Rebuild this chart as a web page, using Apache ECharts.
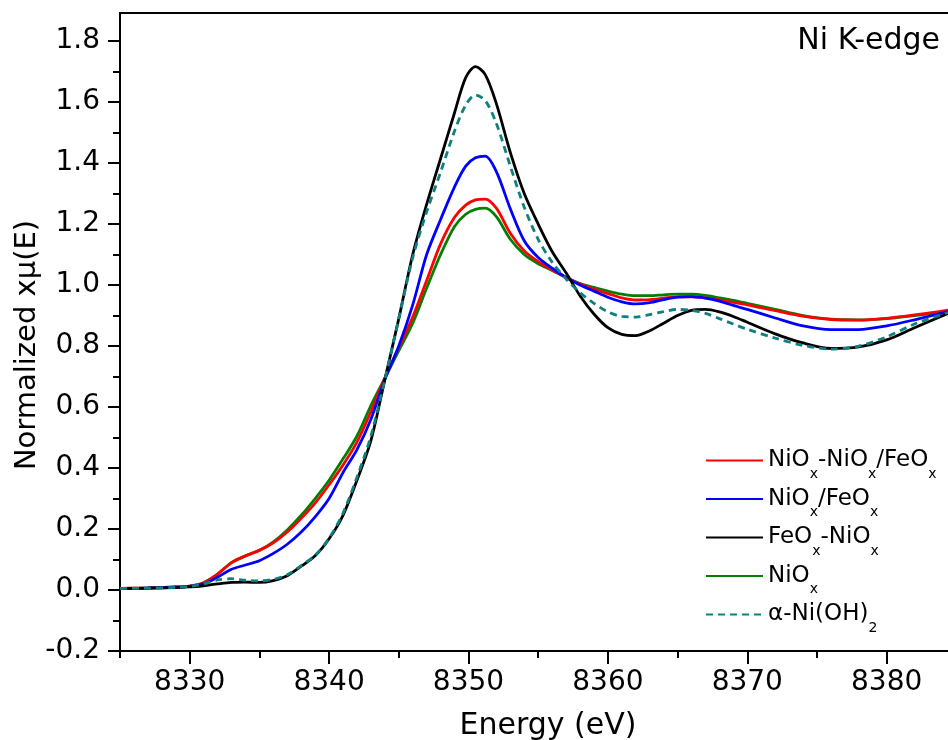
<!DOCTYPE html>
<html>
<head>
<meta charset="utf-8">
<title>Ni K-edge XANES</title>
<script src="https://cdn.jsdelivr.net/npm/echarts@6/dist/echarts.min.js"></script>
<style>
html, body { margin: 0; padding: 0; background: #fff; }
#chart { width: 948px; height: 740px; }
</style>
</head>
<body>
<div id="chart"></div>
<script>
// energies (eV)
var energy = [8325, 8327, 8329, 8330, 8331, 8332, 8333, 8334, 8335, 8336, 8337, 8338, 8339, 8340,
    8341, 8342, 8343, 8344, 8345, 8346, 8347, 8348, 8349, 8349.8, 8350.5, 8351.2, 8352, 8353, 8354,
    8355, 8356, 8357, 8358, 8359, 8360, 8361, 8362, 8363, 8364, 8365, 8366, 8367, 8368, 8369,
    8370, 8372, 8374, 8376, 8378, 8380, 8382, 8384.4];

// NiOx-NiOx/FeOx
var redData = [0.005, 0.007, 0.010, 0.013, 0.024, 0.052, 0.090, 0.112, 0.130, 0.155, 0.190, 0.235, 0.285, 0.345,
    0.410, 0.485, 0.585, 0.695, 0.795, 0.895, 1.015, 1.135, 1.222, 1.262, 1.279, 1.282, 1.252, 1.170, 1.112,
    1.077, 1.050, 1.025, 1.003, 0.987, 0.972, 0.958, 0.951, 0.952, 0.957, 0.961, 0.961, 0.958, 0.951, 0.943,
    0.935, 0.916, 0.898, 0.887, 0.885, 0.891, 0.902, 0.918];
// NiOx/FeOx
var blueData = [0.005, 0.006, 0.009, 0.012, 0.020, 0.042, 0.068, 0.082, 0.096, 0.120, 0.150, 0.190, 0.240, 0.300,
    0.385, 0.460, 0.560, 0.690, 0.800, 0.935, 1.100, 1.215, 1.322, 1.390, 1.417, 1.423, 1.372, 1.250, 1.145,
    1.090, 1.055, 1.025, 1.000, 0.980, 0.960, 0.945, 0.938, 0.942, 0.952, 0.960, 0.962, 0.957, 0.947, 0.933,
    0.920, 0.892, 0.866, 0.854, 0.854, 0.866, 0.886, 0.913];
// FeOx-NiOx
var blackData = [0.005, 0.006, 0.008, 0.010, 0.014, 0.020, 0.025, 0.026, 0.025, 0.031, 0.047, 0.078, 0.112, 0.168,
    0.245, 0.360, 0.490, 0.690, 0.890, 1.100, 1.265, 1.415, 1.565, 1.680, 1.716, 1.690, 1.595, 1.435, 1.300,
    1.200, 1.110, 1.040, 0.965, 0.905, 0.860, 0.838, 0.834, 0.850, 0.875, 0.900, 0.917, 0.920, 0.912, 0.897,
    0.878, 0.840, 0.810, 0.792, 0.797, 0.820, 0.860, 0.907];
// NiOx
var greenData = [0.005, 0.007, 0.010, 0.013, 0.024, 0.052, 0.090, 0.112, 0.130, 0.158, 0.197, 0.245, 0.300, 0.360,
    0.430, 0.505, 0.605, 0.695, 0.785, 0.875, 0.990, 1.100, 1.192, 1.232, 1.248, 1.252, 1.224, 1.150, 1.100,
    1.070, 1.048, 1.025, 1.005, 0.992, 0.980, 0.970, 0.965, 0.965, 0.968, 0.970, 0.970, 0.966, 0.958, 0.950,
    0.940, 0.920, 0.900, 0.888, 0.886, 0.890, 0.900, 0.913];
// alpha-Ni(OH)2
var tealData = [0.005, 0.006, 0.009, 0.012, 0.020, 0.033, 0.037, 0.032, 0.030, 0.035, 0.050, 0.080, 0.114, 0.170,
    0.252, 0.370, 0.505, 0.690, 0.890, 1.090, 1.240, 1.370, 1.505, 1.590, 1.623, 1.605, 1.530, 1.390, 1.255,
    1.150, 1.075, 1.020, 0.975, 0.940, 0.912, 0.897, 0.895, 0.903, 0.913, 0.920, 0.917, 0.907, 0.890, 0.872,
    0.855, 0.826, 0.802, 0.790, 0.800, 0.830, 0.872, 0.910];

var xMajor = [8330, 8340, 8350, 8360, 8370, 8380];
var xMinor = [8325, 8335, 8345, 8355, 8365, 8375];
var yMajor = [-0.2, 0, 0.2, 0.4, 0.6, 0.8, 1.0, 1.2, 1.4, 1.6, 1.8];
var yMinor = [-0.1, 0.1, 0.3, 0.5, 0.7, 0.9, 1.1, 1.3, 1.5, 1.7];

var legendNames = {
    'red': 'NiO{s|x}-NiO{s|x}/FeO{s|x}',
    'blue': 'NiO{s|x}/FeO{s|x}',
    'black': 'FeO{s|x}-NiO{s|x}',
    'green': 'NiO{s|x}',
    'teal': 'α-Ni(OH){s|2}'
};

var FONT = 'DejaVu Sans';
var X_MIN = 8325, X_MAX = 8384.4, Y_MIN = -0.2, Y_MAX = 1.892;

function pairs(ys) {
    var out = [];
    for (var i = 0; i < energy.length; i++) out.push([energy[i], ys[i]]);
    return out;
}

function mkSeries(id, data, color, dashed) {
    return {
        name: id,
        type: 'line',
        data: pairs(data),
        symbol: 'none',
        smooth: 0.3,
        xAxisIndex: 0,
        yAxisIndex: 0,
        lineStyle: { color: color, width: 2.8, type: dashed ? [7, 5] : 'solid' },
        itemStyle: { color: color }
    };
}

var chart = echarts.init(document.getElementById('chart'), null, { renderer: 'canvas' });

var axisLineStyle = { color: '#000', width: 2 };

var option = {
    animation: false,
    backgroundColor: '#fff',
    grid: { left: 120, right: 0, top: 13, bottom: 89, containLabel: false, outerBoundsMode: 'none' },
    xAxis: [
        {
            type: 'value', position: 'bottom', min: X_MIN, max: X_MAX,
            axisLine: { show: true, onZero: false, lineStyle: axisLineStyle },
            axisTick: { show: true, inside: false, length: 13, customValues: xMajor, lineStyle: axisLineStyle },
            axisLabel: {
                customValues: xMajor, fontSize: 28, fontFamily: FONT, color: '#000', margin: 18,
                formatter: function (v) { return String(v); }
            },
            splitLine: { show: false },
            name: 'Energy (eV)', nameLocation: 'middle', nameGap: 60, nameMoveOverlap: false,
            nameTextStyle: { fontSize: 30, fontFamily: FONT, color: '#000', padding: [0, 0, 0, 28] }
        },
        {
            type: 'value', position: 'bottom', min: X_MIN, max: X_MAX,
            axisLine: { show: false, onZero: false },
            axisTick: { show: true, inside: false, length: 7, customValues: xMinor, lineStyle: axisLineStyle },
            axisLabel: { show: false },
            splitLine: { show: false }
        },
        {
            type: 'value', position: 'top', min: X_MIN, max: X_MAX,
            axisLine: { show: true, onZero: false, lineStyle: axisLineStyle },
            axisTick: { show: false },
            axisLabel: { show: false },
            splitLine: { show: false }
        }
    ],
    yAxis: [
        {
            type: 'value', position: 'left', min: Y_MIN, max: Y_MAX,
            axisLine: { show: true, onZero: false, lineStyle: axisLineStyle },
            axisTick: { show: true, inside: false, length: 12, customValues: yMajor, lineStyle: axisLineStyle },
            axisLabel: {
                customValues: yMajor, fontSize: 28, fontFamily: FONT, color: '#000', margin: 20,
                formatter: function (v) { return v.toFixed(1); }
            },
            splitLine: { show: false },
            name: 'Normalized xμ(E)', nameLocation: 'middle', nameGap: 78, nameMoveOverlap: false,
            nameTextStyle: { fontSize: 29, fontFamily: FONT, color: '#000', padding: [0, 26, 0, 0] }
        },
        {
            type: 'value', position: 'left', min: Y_MIN, max: Y_MAX,
            axisLine: { show: false, onZero: false },
            axisTick: { show: true, inside: false, length: 7, customValues: yMinor, lineStyle: axisLineStyle },
            axisLabel: { show: false },
            splitLine: { show: false }
        }
    ],
    legend: {
        orient: 'vertical',
        left: 705,
        top: 440,
        padding: 0,
        itemWidth: 57,
        itemHeight: 41,
        itemGap: -2.5,
        itemStyle: { opacity: 0 },
        data: ['red', 'blue', 'black', 'green', 'teal'],
        formatter: function (name) { return legendNames[name]; },
        textStyle: {
            fontSize: 23, fontFamily: FONT, color: '#000', lineHeight: 41,
            rich: {
                s: { fontSize: 14, fontFamily: FONT, color: '#000', lineHeight: 14, verticalAlign: 'bottom' }
            }
        }
    },
    graphic: [
        {
            type: 'text', x: 940, y: 41,
            style: { text: 'Ni K-edge', fontSize: 30, fontFamily: FONT, fill: '#000', align: 'right', verticalAlign: 'middle' }
        }
    ],
    series: [
        mkSeries('green', greenData, '#008000', false),
        mkSeries('red', redData, '#ff0000', false),
        mkSeries('blue', blueData, '#0000ff', false),
        mkSeries('black', blackData, '#000000', false),
        mkSeries('teal', tealData, '#0f8080', true)
    ]
};

chart.setOption(option);
</script>
</body>
</html>
